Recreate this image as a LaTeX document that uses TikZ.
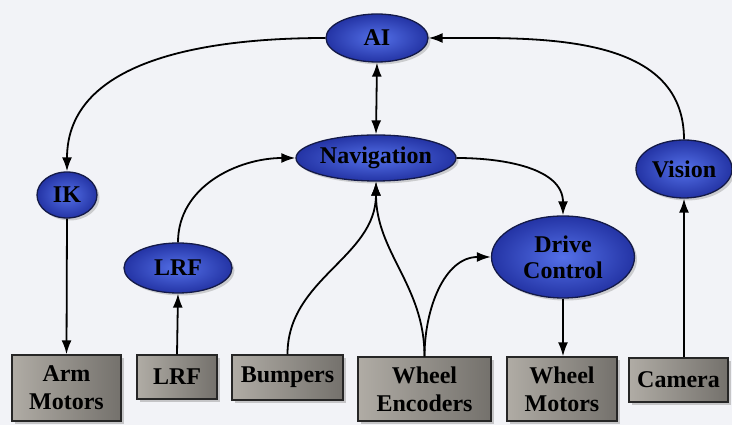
\documentclass[tikz,border=0pt]{standalone}
\usepackage{fontspec}
\setmainfont{Liberation Serif}
\newfontfamily\dtf{Liberation Serif Bold}
\usetikzlibrary{shapes.geometric,arrows.meta,shadows}
\definecolor{bgc}{RGB}{242,243,247}
\definecolor{blin}{RGB}{84,112,232}
\definecolor{blout}{RGB}{36,52,165}
\definecolor{bledge}{RGB}{20,26,72}
\definecolor{gl}{RGB}{176,172,165}
\definecolor{gr}{RGB}{116,113,108}
\tikzset{
  ell/.style={ellipse, draw=bledge, line width=1.3pt, inner color=blin, outer color=blout,
    inner sep=0pt, align=center, font=\dtf\fontsize{24}{26}\selectfont,
    drop shadow={shadow xshift=2.5pt, shadow yshift=-2.5pt, fill=black!35, opacity=0.5}},
  bx/.style={rectangle, draw=black!85, line width=1.4pt, left color=gl, right color=gr,
    inner sep=0pt, align=center, font=\dtf\fontsize{24}{28}\selectfont,
    drop shadow={shadow xshift=3pt, shadow yshift=-3pt, fill=black!40, opacity=0.5}},
  conn/.style={line width=1.8pt, -{Latex[length=14pt,width=10pt]}},
}
\begin{document}
\begin{tikzpicture}[x=1pt,y=1pt]
\fill[bgc] (0,0) rectangle (732,425);
\useasboundingbox (0,0) rectangle (732,425);
% ellipses
\node[ell, minimum width=102pt, minimum height=48pt] (ai) at (377,387) {AI};
\node[ell, minimum width=160pt, minimum height=46pt] (nav) at (376,267) {Navigation};
\node[ell, minimum width=60pt, minimum height=46pt] (ik) at (67,230) {IK};
\node[ell, minimum width=108pt, minimum height=50pt] (lrfe) at (178,157) {LRF};
\node[ell, minimum width=143pt, minimum height=82pt] (drive) at (563,168) {Drive\\Control};
\node[ell, minimum width=96pt, minimum height=58pt] (vision) at (684,256) {Vision};
% boxes
\node[bx, minimum width=109pt, minimum height=66pt] (arm) at (66.5,37) {Arm\\Motors};
\node[bx, minimum width=80pt, minimum height=44pt] (lrfb) at (177,48) {LRF};
\node[bx, minimum width=111pt, minimum height=45pt] (bump) at (287.5,47.5) {Bumpers};
\node[bx, minimum width=133pt, minimum height=64pt] (enc) at (424.5,36) {Wheel\\Encoders};
\node[bx, minimum width=110pt, minimum height=64pt] (wm) at (562,36) {Wheel\\Motors};
\node[bx, minimum width=99pt, minimum height=44pt] (cam) at (678.5,45) {Camera};
% connectors
\draw[conn] (ai.west) to[out=180,in=90] (ik.north);
\draw[conn] (vision.north) to[out=90,in=0] (ai.east);
\draw[line width=1.8pt, {Latex[length=14pt,width=10pt]}-{Latex[length=14pt,width=10pt]}] (ai.south) -- (nav.north);
\draw[conn] (lrfe.north) to[out=90,in=180] (nav.west);
\draw[conn] (nav.east) to[out=0,in=90] (drive.north);
\draw[conn] (ik.south) -- (arm.north);
\draw[conn] (lrfb.north) -- (lrfe.south);
\draw[conn] (bump.north) to[out=90,in=-90] (nav.south);
\draw[conn] (enc.north) to[out=90,in=-90] (nav.south);
\draw[conn] (enc.north) to[out=90,in=180] (drive.west);
\draw[conn] (drive.south) -- (drive.south |- wm.north);
\draw[conn] (cam.north -| vision.south) -- (vision.south);
\end{tikzpicture}
\end{document}
